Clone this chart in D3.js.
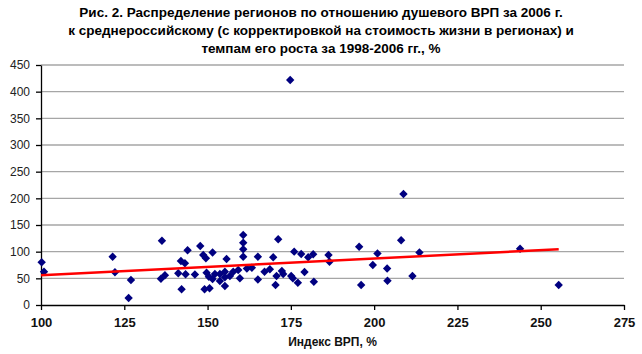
<!DOCTYPE html>
<html><head><meta charset="utf-8">
<script src="https://cdn.jsdelivr.net/npm/d3@7"></script>
<style>
html,body{margin:0;padding:0;background:#fff;}
svg{display:block;}
</style></head>
<body>
<svg id="chart" width="642" height="354"></svg>
<script>
const titleLines = [
  "Рис. 2. Распределение регионов по отношению душевого ВРП за 2006 г.",
  "к среднероссийскому (с корректировкой на стоимость жизни в регионах) и",
  "темпам его роста за 1998-2006 гг., %"
];
const xAxisTitle = "Индекс ВРП, %";
const xTicks = [100,125,150,175,200,225,250,275];
const yTicks = [0,50,100,150,200,250,300,350,400,450];

// Index of GRP (x) and growth rate (y) per region
const gvpIndex = [
  100.2,100.9,121.5,122.2,127.0,126.3,
  136.3,144.0,147.8,151.5,142.0,143.2,148.7,149.5,136.0,137.2,141.2,143.4,146.2,149.7,150.4,142.2,149.1,150.6,151.5,
  160.7,160.7,160.7,160.7,155.7,171.2,169.7,165.1,161.8,163.3,159.2,157.7,155.2,153.7,152.2,153.7,155.2,156.7,159.7,155.2,165.1,167.1,168.7,170.7,170.4,172.3,
  176.0,178.1,180.2,181.7,186.3,186.6,172.7,175.1,175.6,179.1,177.1,181.9,174.8,
  208.8,208.1,195.5,201.0,213.6,199.6,203.9,204.0,211.5,196.1,
  243.8,255.4
];
const growthRate = [
  80.1,62.4,90.6,61.3,46.9,13.1,
  120.6,102.6,110.6,98.4,82.5,78.2,93.8,87.6,49.3,55.7,59.4,57.6,57.2,60.6,53.1,29.4,29.4,31.3,48.8,
  131.3,116.8,104.4,90.6,86.3,123.2,89.4,90.6,68.4,69.9,65.6,62.4,62.4,58.1,58.1,45.0,51.9,54.4,50.1,35.6,47.8,62.4,66.9,54.4,37.5,63.8,
  100.0,95.6,89.4,95.1,93.8,81.2,58.1,54.4,50.1,61.9,41.8,43.7,421.9,
  208.1,121.3,109.3,96.6,98.4,75.0,68.4,45.6,54.4,37.5,
  105.4,37.5
];
// Linear trend line endpoints
const trendX = [100, 255.4];
const trendY = [55.8, 104.4];

const svg = d3.select("#chart");
const mLeft = 41, mRight = 624, mTop = 65, mBottom = 305;
const x = d3.scaleLinear().domain([100,275]).range([mLeft,mRight]);
const y = d3.scaleLinear().domain([0,450]).range([mBottom,mTop]);

// Title
svg.append("g").selectAll("text").data(titleLines).join("text")
  .attr("x", 321).attr("y", (d,i)=>17+i*18)
  .attr("text-anchor","middle")
  .style("font-family","'Liberation Sans Narrow','Arial Narrow',sans-serif")
  .style("font-weight","bold").style("font-size","13.5px").style("fill","#000")
  .text(d=>d);

// Gridlines
svg.append("g").selectAll("line").data(yTicks.filter(t=>t>0)).join("line")
  .attr("x1", mLeft).attr("x2", mRight)
  .attr("y1", d=>y(d)).attr("y2", d=>y(d))
  .attr("stroke","#a6a6a6").attr("stroke-width",1.3);

// Y axis
const yAxis = svg.append("g").attr("transform",`translate(${mLeft},0)`)
  .call(d3.axisLeft(y).tickValues(yTicks).tickSize(5).tickSizeOuter(0).tickPadding(6));
yAxis.select(".domain").attr("stroke","#000").attr("stroke-width",1.3);
yAxis.selectAll(".tick line").attr("stroke","#000").attr("stroke-width",1.3);
yAxis.selectAll("text").style("font-family","'Liberation Sans',Arial,sans-serif")
  .style("font-size","12px").style("fill","#222");

// X axis
const xAxis = svg.append("g").attr("transform",`translate(0,${mBottom})`)
  .call(d3.axisBottom(x).tickValues(xTicks).tickSize(5).tickSizeOuter(0).tickPadding(8));
xAxis.select(".domain").attr("stroke","#000").attr("stroke-width",1.3);
xAxis.selectAll(".tick line").attr("stroke","#000").attr("stroke-width",1.3);
xAxis.selectAll("text").style("font-family","'Liberation Sans',Arial,sans-serif")
  .style("font-weight","bold").style("font-size","13px").style("fill","#111");

svg.append("text").attr("x", (mLeft+mRight)/2).attr("y", 346)
  .attr("text-anchor","middle")
  .style("font-family","'Liberation Sans',Arial,sans-serif")
  .style("font-weight","bold").style("font-size","12px").style("fill","#111")
  .text(xAxisTitle);

// Points
const diamond = "M0,-4.2L4.2,0L0,4.2L-4.2,0Z";
svg.append("g").selectAll("path").data(gvpIndex.map((v,i)=>[v,growthRate[i]])).join("path")
  .attr("d", diamond)
  .attr("transform", d=>`translate(${x(d[0])},${y(d[1])})`)
  .attr("fill","#000080");

// Trend line
svg.append("path")
  .datum(trendX.map((v,i)=>[v,trendY[i]]))
  .attr("d", d3.line().x(d=>x(d[0])).y(d=>y(d[1])))
  .attr("stroke","#ff0000").attr("stroke-width",2.5).attr("fill","none");
</script>
</body></html>
